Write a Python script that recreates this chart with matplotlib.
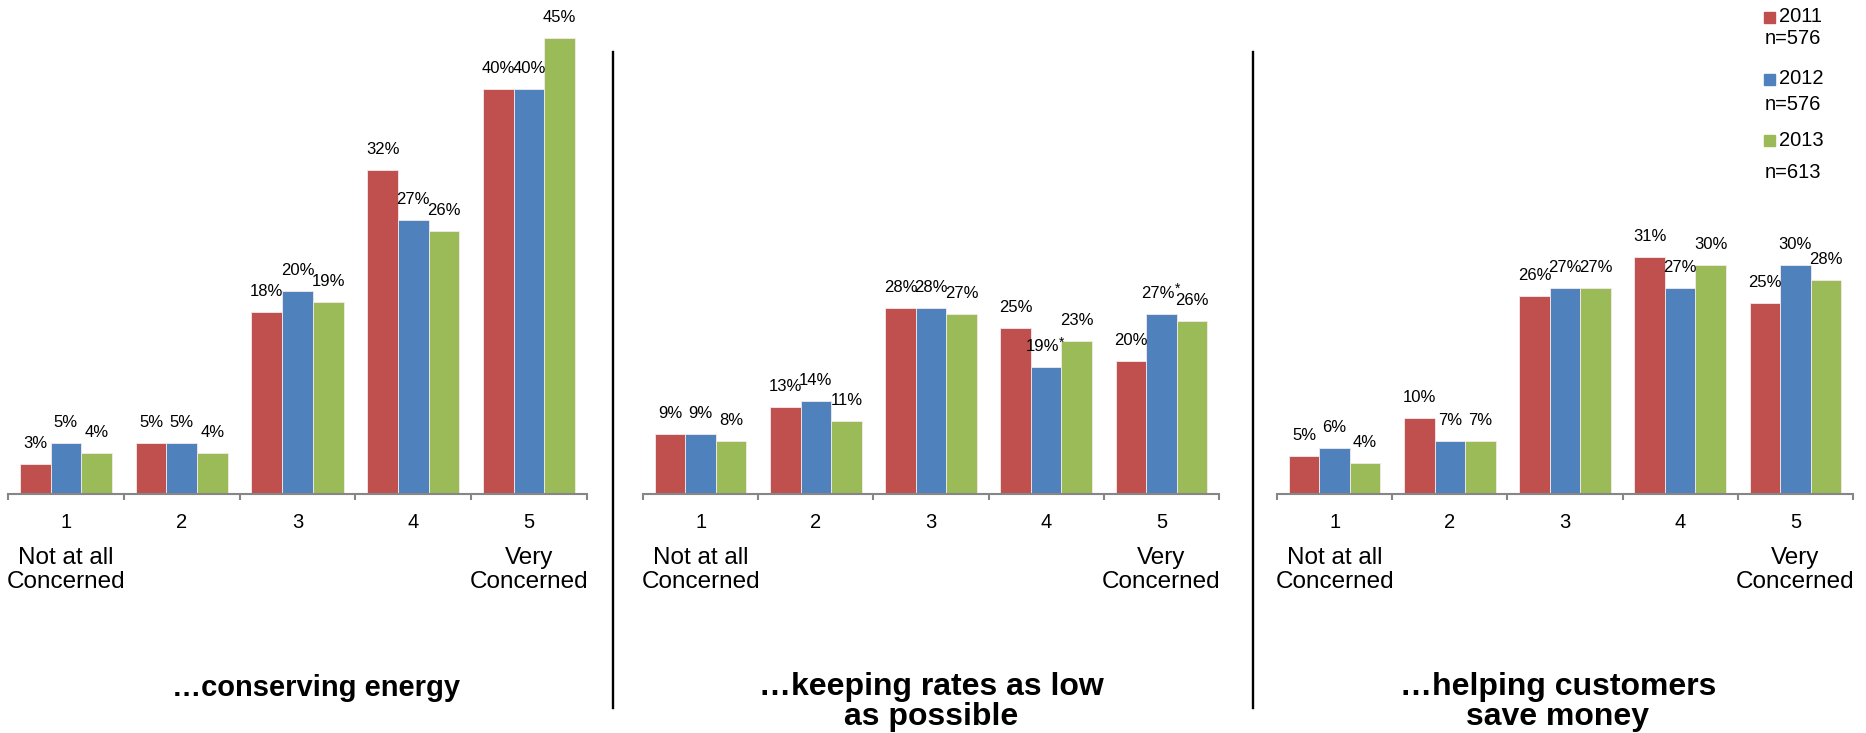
import matplotlib
matplotlib.use("Agg")
import matplotlib.pyplot as plt
from matplotlib.patches import Rectangle
import numpy as np

plt.rcParams['font.family'] = ['Liberation Sans', 'DejaVu Sans']

# survey answers: 1 = not at all concerned ... 5 = very concerned
categories = ['1', '2', '3', '4', '5']
years = ['2011', '2012', '2013']
sample_sizes = ['n=576', 'n=576', 'n=613']
colors = ['#C0504D', '#4F81BD', '#9BBB59']

titles = ['\u2026conserving energy',
          '\u2026keeping rates as low\nas possible',
          '\u2026helping customers\nsave money']

conserving_2011 = [3, 5, 18, 32, 40]
conserving_2012 = [5, 5, 20, 27, 40]
conserving_2013 = [4, 4, 19, 26, 45]

rates_2011 = [9, 13, 28, 25, 20]
rates_2012 = [9, 14, 28, 19, 27]
rates_2013 = [8, 11, 27, 23, 26]

saving_2011 = [5, 10, 26, 31, 25]
saving_2012 = [6, 7, 27, 27, 30]
saving_2013 = [4, 7, 27, 30, 28]

# significant change vs. previous year, marked with *
rates_flags_2012 = [False, False, False, True, True]

panels = [
    (conserving_2011, conserving_2012, conserving_2013),
    (rates_2011, rates_2012, rates_2013),
    (saving_2011, saving_2012, saving_2013),
]
flags = [None, rates_flags_2012, None]

W, H = 1866, 733
fig = plt.figure(figsize=(W / 100, H / 100), dpi=100)

# pixel layout of each panel (left, right), baseline and px per percent
axis_y = 494
panel_x = [(8, 587), (643, 1219), (1277, 1853)]
px_per_pct = [10.13, 6.66, 7.63]
title_dx = [19, 0, -7]
title_size = [21, 23, 23]
title_dy = [-180, -178, -178]

bw = 0.265
offsets = [-bw, 0, bw]
x = np.arange(len(categories))

for p, series in enumerate(panels):
    x0, x1 = panel_x[p]
    ax = fig.add_axes([x0 / W, (H - axis_y) / H, (x1 - x0) / W, axis_y / H])
    for k, vals in enumerate(series):
        ax.bar(x + offsets[k], vals, width=bw, color=colors[k],
               edgecolor='#f4eaea', linewidth=0.6)
        for i, v in enumerate(vals):
            star = flags[p] is not None and k == 1 and flags[p][i]
            dx = -4 if star else 0
            ax.annotate(f'{v}%', (x[i] + offsets[k], v), xytext=(dx, 13),
                        textcoords='offset pixels', ha='center', va='bottom',
                        fontsize=12)
            if star:
                ax.annotate('*', (x[i] + offsets[k], v), xytext=(13, 18),
                            textcoords='offset pixels', ha='left', va='bottom',
                            fontsize=10)

    ax.set_xlim(-0.5, len(categories) - 0.5)
    ax.set_ylim(0, axis_y / px_per_pct[p])
    for s in ['top', 'right', 'left']:
        ax.spines[s].set_visible(False)
    ax.spines['bottom'].set_color('#868686')
    ax.spines['bottom'].set_linewidth(1.5)
    ax.set_yticks([])
    ax.set_xticks(x)
    ax.set_xticklabels(categories, fontsize=14.5)
    ax.tick_params(axis='x', which='major', length=0, pad=14)
    ax.set_xticks(np.arange(-0.5, len(categories)), minor=True)
    ax.tick_params(axis='x', which='minor', length=4.5, width=1.5,
                   color='#868686', direction='out')

    ax.annotate('Not at all\nConcerned', (x[0], 0), xytext=(0, -76),
                textcoords='offset pixels', ha='center', va='center',
                fontsize=17.5, linespacing=1.08, annotation_clip=False)
    ax.annotate('Very\nConcerned', (x[-1], 0), xytext=(0, -76),
                textcoords='offset pixels', ha='center', va='center',
                fontsize=17.5, linespacing=1.08, annotation_clip=False)
    ax.annotate(titles[p], (0.5, 0), xycoords='axes fraction',
                xytext=(title_dx[p], title_dy[p]),
                textcoords='offset pixels', ha='center', va='top',
                fontsize=title_size[p], fontweight='bold', linespacing=1.0,
                annotation_clip=False)

# divider lines between panels
for dx in [613, 1253]:
    fig.add_artist(plt.Line2D([dx / W, dx / W], [(H - 52) / H, (H - 708) / H],
                              color='black', linewidth=1.7))

# legend drawn by hand at the top right
leg_y = [17, 79, 140]
n_y = [38, 105, 172]
for k in range(3):
    fig.add_artist(Rectangle((1764 / W, (H - leg_y[k] - 5.5) / H), 11 / W, 11 / H,
                             transform=fig.transFigure, color=colors[k]))
    fig.text(1779 / W, (H - leg_y[k]) / H, years[k], fontsize=14.5,
             ha='left', va='center')
    fig.text(1765 / W, (H - n_y[k]) / H, sample_sizes[k], fontsize=14.5,
             ha='left', va='center')

fig.savefig('out.png', dpi=100)
